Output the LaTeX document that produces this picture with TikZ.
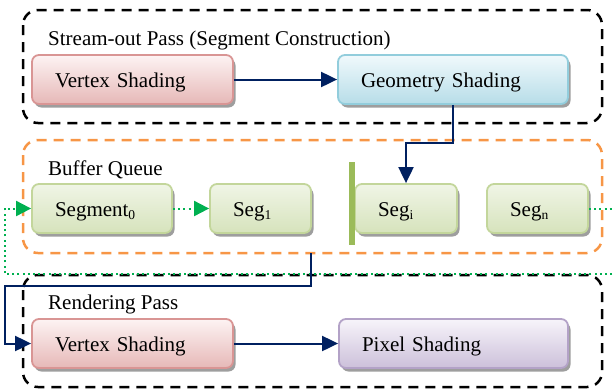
\documentclass[tikz,border=0pt]{standalone}
\usepackage{fontspec}
\setmainfont{Liberation Serif}
\usetikzlibrary{arrows.meta,shadows}

\definecolor{navyline}{RGB}{0,32,96}
\definecolor{dotgreen}{RGB}{0,176,80}
\definecolor{passorange}{RGB}{247,150,70}
\definecolor{barolive}{RGB}{155,187,89}
\definecolor{redline}{RGB}{217,149,148}
\definecolor{redtop}{RGB}{253,243,243}
\definecolor{redbot}{RGB}{230,184,183}
\definecolor{blueline}{RGB}{146,205,220}
\definecolor{bluetop}{RGB}{240,249,252}
\definecolor{bluebot}{RGB}{183,221,232}
\definecolor{greenline}{RGB}{195,214,155}
\definecolor{greentop}{RGB}{240,245,230}
\definecolor{greenbot}{RGB}{214,227,188}
\definecolor{purpleline}{RGB}{179,162,199}
\definecolor{purpletop}{RGB}{247,244,250}
\definecolor{purplebot}{RGB}{204,192,218}

\newcommand{\subidx}[1]{{\fontsize{13.5}{13.5}\selectfont\raisebox{-3pt}{#1}}}

\tikzset{
  stage/.style={rounded corners=7pt, line width=1.8pt, minimum height=49pt,
    inner xsep=23pt, inner ysep=0pt, align=left, text height=19.5pt, text depth=4.5pt,
    font=\fontsize{21}{25}\selectfont,
    drop shadow={shadow xshift=2.5pt, shadow yshift=-3.5pt, fill=black!38, opacity=1}},
  redstage/.style={stage, draw=redline, top color=redtop, bottom color=redbot},
  bluestage/.style={stage, draw=blueline, top color=bluetop, bottom color=bluebot},
  greenstage/.style={stage, draw=greenline, top color=greentop, bottom color=greenbot},
  purplestage/.style={stage, draw=purpleline, top color=purpletop, bottom color=purplebot},
  passframe/.style={rounded corners=15pt, line width=2.5pt, dash pattern=on 10pt off 7pt},
  passlabel/.style={anchor=base west, inner sep=0pt, font=\fontsize{21}{25}\selectfont},
  flow/.style={draw=navyline, line width=2pt,
    -{Triangle[length=16pt, width=15pt]}},
  ring/.style={draw=dotgreen, line width=2pt, dash pattern=on 2pt off 3.2pt,
    -{Triangle[length=15pt, width=15pt, fill=dotgreen]}},
}

\begin{document}
\begin{tikzpicture}[x=1pt, y=-1pt]
\clip (0,0) rectangle (615,389);
\useasboundingbox (0,0) rectangle (615,389);

% pass frames
\draw[passframe, draw=black] (23,10) rectangle (602,123);
\node[passlabel] (lblstream) at (48,45) {Stream-out Pass (Segment Construction)};

\draw[passframe, draw=passorange] (23,140) rectangle (602,253);
\coordinate (bufbottom) at (311,253);
\node[passlabel] (lblbuffer) at (48,175) {Buffer Queue};

\draw[passframe, draw=black] (23,275) rectangle (602,387);
\node[passlabel] (lblrender) at (48,309) {Rendering Pass};

% stage boxes
\node[redstage, text width=155pt] (vs1) at (132.5,79.5) {Vertex Shading};
\node[bluestage, text width=184pt] (gs) at (453,79.5) {Geometry Shading};

\node[greenstage, text width=94pt] (seg0) at (102,208.5) {Segment\subidx{0}};
\node[greenstage, text width=55pt] (seg1) at (260.5,208.5) {Seg\subidx{1}};
\node[greenstage, text width=56pt] (segi) at (406,208.5) {Seg\subidx{i}};
\node[greenstage, text width=55pt] (segn) at (537.5,208.5) {Seg\subidx{n}};

\fill[barolive] (349,162) rectangle (355,245);

\node[redstage, text width=155pt] (vs2) at (132.5,343.5) {Vertex Shading};
\node[purplestage, text width=183pt] (ps) at (453.5,343.5) {Pixel Shading};

% ring of segments (dotted, wraps past the right edge)
\coordinate (ringright) at (625,274);
\coordinate (ringleft) at (5,274);
\draw[ring] (seg0.east) -- (seg1.west);
\draw[ring] (segn.east) -- (segn.east -| ringright) -- (ringright) -- (ringleft) |- (seg0.west);

% data flow
\draw[flow] (vs1.east) -- (gs.west);
\coordinate (gsturn) at (453,143);
\draw[flow] (gs.south) -- (gsturn) -| (segi.north);
\coordinate (backleft) at (5,286);
\draw[flow] (bufbottom) |- (backleft) |- (vs2.west);
\draw[flow] (vs2.east) -- (ps.west);
\end{tikzpicture}
\end{document}
